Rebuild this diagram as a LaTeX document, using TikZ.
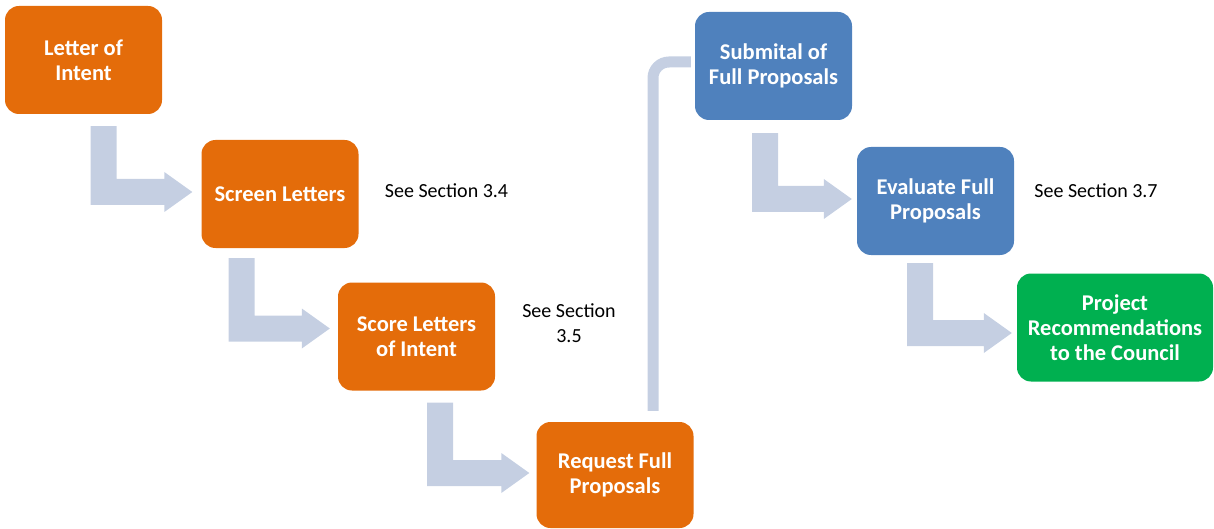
\documentclass[tikz,border=0pt]{standalone}
\usepackage{fontspec}
\setmainfont{Carlito}
\usetikzlibrary{calc}
\definecolor{orangebox}{RGB}{228,108,10}
\definecolor{bluebox}{RGB}{79,129,189}
\definecolor{greenbox}{RGB}{0,176,80}
\definecolor{arrowfill}{RGB}{197,207,226}
\tikzset{
  box/.style={rounded corners=14pt, minimum width=157pt, minimum height=108pt, inner sep=0pt,
    align=center, text=white, font=\bfseries\fontsize{22.5}{25}\selectfont},
  obox/.style={box, fill=orangebox},
  bbox/.style={box, fill=bluebox},
  gbox/.style={box, fill=greenbox, minimum width=196pt},
  note/.style={align=center, inner sep=0pt, font=\fontsize{20}{25}\selectfont, text=black},
}
\newcommand\bentarrow[2]{%
  \fill[arrowfill] let \p1=(#1), \p2=(#2) in
    ({\x1-13pt},\y1) -- ({\x1+13pt},\y1) -- ({\x1+13pt},{\y2+13pt}) --
    ({\x2-28pt},{\y2+13pt}) -- ({\x2-28pt},{\y2+20pt}) -- (\x2,\y2) --
    ({\x2-28pt},{\y2-20pt}) -- ({\x2-28pt},{\y2-13pt}) -- ({\x1-13pt},{\y2-13pt}) -- cycle;}
\begin{document}
\begin{tikzpicture}[x=1pt,y=-1pt]
\useasboundingbox (0,0) rectangle (1214,529);
% boxes
\node[obox] (b1) at (83.5,60) {Letter of\\Intent};
\node[obox] (b2) at (280,194) {Screen Letters};
\node[obox] (b3) at (416.5,336.5) {Score Letters\\of Intent};
\node[obox, minimum height=106pt] (b4) at (615,475) {Request Full\\Proposals};
\node[bbox] (b5) at (773.5,66) {Submital of\\Full Proposals};
\node[bbox] (b6) at (935.5,201) {Evaluate Full\\Proposals};
\node[gbox] (b7) at (1115,327.5) {Project\\Recommendations\\to the Council};
% notes
\node[note] (n1) at (446.5,191) {See Section 3.4};
\node[note] (n2) at (569,323) {See Section\\3.5};
\node[note] (n3) at (1096,191) {See Section 3.7};
% arrow anchor points
\coordinate (a1s) at ($(b1.south)+(20,12)$);
\coordinate (a1e) at ($(b2.west)+(-9,-2)$);
\coordinate (a2s) at ($(b2.south)+(-38.5,10)$);
\coordinate (a2e) at ($(b3.west)+(-8,-8)$);
\coordinate (a3s) at ($(b3.south)+(23.5,12)$);
\coordinate (a3e) at ($(b4.west)+(-7,-2)$);
\coordinate (a4s) at ($(b5.south)+(-8.5,13)$);
\coordinate (a4e) at ($(b6.west)+(-5,-2)$);
\coordinate (a5s) at ($(b6.south)+(-15.5,8)$);
\coordinate (a5e) at ($(b7.west)+(-5,5.5)$);
\coordinate (lcs) at ($(b4.north)+(38,-11)$);
\coordinate (lce) at ($(b5.west)+(-4,-4)$);
\bentarrow{a1s}{a1e}
\bentarrow{a2s}{a2e}
\bentarrow{a3s}{a3e}
\bentarrow{a4s}{a4e}
\bentarrow{a5s}{a5e}
\draw[arrowfill, line width=11pt, rounded corners=16pt] (lcs) |- (lce);
\end{tikzpicture}
\end{document}
